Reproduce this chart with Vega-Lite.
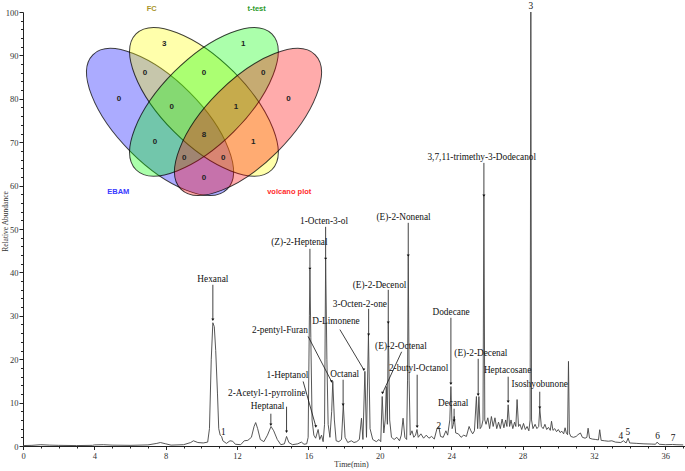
{
  "$schema": "https://vega.github.io/schema/vega-lite/v6.json",
  "width": 662,
  "height": 434,
  "autosize": "none",
  "padding": {"left": 23, "top": 12, "right": 0, "bottom": 25},
  "background": "white",
  "config": {"view": {"stroke": null}},
  "datasets": {
    "chrom": [
      {"t":0,"v":0.1},{"t":0.5,"v":0.15},{"t":1.0,"v":0.3},{"t":1.5,"v":0.2},{"t":2.0,"v":0.15},{"t":3.0,"v":0.1},{"t":3.9,"v":0.15},{"t":4.0,"v":0.25},{"t":4.5,"v":0.3},{"t":5.0,"v":0.2},{"t":6.0,"v":0.15},{"t":7.0,"v":0.25},{"t":7.5,"v":0.6},{"t":7.7,"v":0.8},{"t":8.0,"v":0.5},{"t":8.3,"v":0.2},{"t":9.0,"v":0.3},{"t":9.4,"v":0.8},{"t":9.55,"v":1.2},{"t":9.8,"v":0.8},{"t":10.1,"v":0.7},{"t":10.35,"v":0.9},{"t":10.45,"v":4},{"t":10.55,"v":20},{"t":10.64,"v":28.4},{"t":10.72,"v":27.5},{"t":10.8,"v":22},{"t":10.9,"v":12},{"t":10.97,"v":4},{"t":11.05,"v":2.5},{"t":11.13,"v":2.2},{"t":11.2,"v":1.2},{"t":11.4,"v":0.6},{"t":11.6,"v":1.2},{"t":11.75,"v":1.1},{"t":11.9,"v":0.4},{"t":12.2,"v":0.3},{"t":12.4,"v":1.2},{"t":12.6,"v":1.3},{"t":12.8,"v":2},{"t":12.95,"v":4.5},{"t":13.04,"v":5.4},{"t":13.15,"v":4},{"t":13.3,"v":1.5},{"t":13.5,"v":1.0},{"t":13.7,"v":2.5},{"t":13.9,"v":4.5},{"t":14.05,"v":3.5},{"t":14.25,"v":1.5},{"t":14.45,"v":0.3},{"t":14.65,"v":0.5},{"t":14.77,"v":2.2},{"t":14.9,"v":0.8},{"t":15.1,"v":0.3},{"t":15.4,"v":0.5},{"t":15.6,"v":0.9},{"t":15.75,"v":0.4},{"t":15.9,"v":0.5},{"t":15.98,"v":2},{"t":16.05,"v":30},{"t":16.08,"v":40.6},{"t":16.13,"v":25},{"t":16.2,"v":6},{"t":16.3,"v":2.5},{"t":16.4,"v":1.8},{"t":16.54,"v":3.8},{"t":16.63,"v":1.5},{"t":16.73,"v":2.5},{"t":16.82,"v":1.0},{"t":16.9,"v":5},{"t":16.96,"v":42.9},{"t":17.03,"v":20},{"t":17.1,"v":5},{"t":17.2,"v":2},{"t":17.3,"v":8},{"t":17.36,"v":14.9},{"t":17.45,"v":6},{"t":17.55,"v":1.2},{"t":17.7,"v":1.0},{"t":17.85,"v":1.5},{"t":17.95,"v":9.5},{"t":18.05,"v":2},{"t":18.2,"v":0.8},{"t":18.4,"v":1.2},{"t":18.55,"v":0.8},{"t":18.7,"v":1.0},{"t":18.85,"v":1.5},{"t":18.97,"v":6.4},{"t":19.05,"v":1.5},{"t":19.16,"v":17.2},{"t":19.25,"v":2},{"t":19.36,"v":25.6},{"t":19.45,"v":4},{"t":19.6,"v":1.5},{"t":19.8,"v":1},{"t":19.95,"v":1.5},{"t":20.05,"v":1},{"t":20.13,"v":11.4},{"t":20.22,"v":3},{"t":20.3,"v":6},{"t":20.36,"v":13.7},{"t":20.42,"v":5},{"t":20.47,"v":28.3},{"t":20.55,"v":6},{"t":20.65,"v":2},{"t":20.8,"v":1.5},{"t":20.95,"v":2},{"t":21.1,"v":1.2},{"t":21.2,"v":2.5},{"t":21.3,"v":6.4},{"t":21.4,"v":2},{"t":21.5,"v":1.5},{"t":21.55,"v":15},{"t":21.59,"v":43.7},{"t":21.64,"v":15},{"t":21.7,"v":2.5},{"t":21.8,"v":3.5},{"t":21.9,"v":2},{"t":22.0,"v":2.5},{"t":22.08,"v":3.8},{"t":22.15,"v":2},{"t":22.3,"v":2.8},{"t":22.45,"v":1.8},{"t":22.6,"v":2.5},{"t":22.75,"v":1.8},{"t":22.9,"v":2.2},{"t":23.05,"v":1.6},{"t":23.2,"v":4.0},{"t":23.3,"v":4.5},{"t":23.4,"v":2.2},{"t":23.55,"v":2.0},{"t":23.7,"v":3.5},{"t":23.8,"v":2.5},{"t":23.92,"v":6},{"t":23.98,"v":13.7},{"t":24.05,"v":4},{"t":24.12,"v":5},{"t":24.17,"v":6.8},{"t":24.25,"v":3},{"t":24.4,"v":2.8},{"t":24.55,"v":2.0},{"t":24.7,"v":2.5},{"t":24.85,"v":2.2},{"t":25.0,"v":4.5},{"t":25.1,"v":3.5},{"t":25.2,"v":2.8},{"t":25.3,"v":3.5},{"t":25.41,"v":11.4},{"t":25.48,"v":4},{"t":25.55,"v":11.4},{"t":25.62,"v":4},{"t":25.7,"v":4.5},{"t":25.78,"v":6},{"t":25.83,"v":57.5},{"t":25.88,"v":6},{"t":25.95,"v":5},{"t":26.05,"v":6.5},{"t":26.15,"v":4},{"t":26.25,"v":6.8},{"t":26.35,"v":4.5},{"t":26.45,"v":6.5},{"t":26.55,"v":4},{"t":26.65,"v":5.5},{"t":26.75,"v":4},{"t":26.85,"v":6.2},{"t":26.95,"v":4.2},{"t":27.05,"v":6},{"t":27.12,"v":4.5},{"t":27.19,"v":9.5},{"t":27.27,"v":4.5},{"t":27.35,"v":6},{"t":27.45,"v":4},{"t":27.55,"v":5.5},{"t":27.62,"v":4.5},{"t":27.69,"v":10.7},{"t":27.77,"v":4.5},{"t":27.85,"v":5},{"t":27.95,"v":3.8},{"t":28.05,"v":5.2},{"t":28.15,"v":3.8},{"t":28.25,"v":4.5},{"t":28.35,"v":3.5},{"t":28.42,"v":6},{"t":28.46,"v":100},{"t":28.5,"v":6},{"t":28.58,"v":4},{"t":28.7,"v":5},{"t":28.8,"v":4},{"t":28.9,"v":4.5},{"t":28.96,"v":8.7},{"t":29.05,"v":4.5},{"t":29.15,"v":4},{"t":29.25,"v":5},{"t":29.35,"v":3.8},{"t":29.45,"v":4.3},{"t":29.55,"v":3.6},{"t":29.62,"v":5.7},{"t":29.7,"v":3.6},{"t":29.8,"v":4},{"t":29.9,"v":3.3},{"t":30.0,"v":3.8},{"t":30.1,"v":3.1},{"t":30.2,"v":3.4},{"t":30.3,"v":2.8},{"t":30.38,"v":4.2},{"t":30.45,"v":3},{"t":30.52,"v":2.6},{"t":30.57,"v":19.5},{"t":30.62,"v":3},{"t":30.7,"v":2.2},{"t":30.85,"v":2.0},{"t":31.0,"v":2.2},{"t":31.1,"v":2.6},{"t":31.24,"v":3.0},{"t":31.35,"v":2.0},{"t":31.5,"v":1.8},{"t":31.6,"v":2.0},{"t":31.67,"v":4.1},{"t":31.75,"v":1.8},{"t":31.9,"v":1.6},{"t":32.1,"v":1.5},{"t":32.25,"v":1.4},{"t":32.32,"v":3.75},{"t":32.4,"v":1.3},{"t":32.6,"v":1.2},{"t":32.8,"v":1.1},{"t":33.0,"v":1.2},{"t":33.2,"v":0.9},{"t":33.5,"v":0.8},{"t":33.65,"v":1.2},{"t":33.8,"v":0.7},{"t":33.91,"v":1.8},{"t":34.0,"v":0.7},{"t":34.4,"v":0.6},{"t":34.8,"v":0.5},{"t":35.2,"v":0.45},{"t":35.45,"v":0.4},{"t":35.54,"v":0.9},{"t":35.65,"v":0.4},{"t":36.0,"v":0.3},{"t":36.4,"v":0.35},{"t":36.6,"v":0.3},{"t":37.0,"v":0.25}
    ],
    "labels": [
      {"label":"Hexanal","t":10.64,"v":38.45},
      {"label":"2-Acetyl-1-pyrroline","t":13.66,"v":12.2},
      {"label":"Heptanal","t":13.71,"v":9.12},
      {"label":"1-Heptanol","t":14.82,"v":16.26},
      {"label":"2-pentyl-Furan","t":14.4,"v":26.78},
      {"label":"(Z)-2-Heptenal","t":15.49,"v":47.11},
      {"label":"1-Octen-3-ol","t":16.87,"v":51.95},
      {"label":"Octanal","t":18.03,"v":16.65},
      {"label":"D-Limonene","t":17.54,"v":28.69},
      {"label":"3-Octen-2-one","t":18.88,"v":32.77},
      {"label":"(E)-2-Decenol","t":19.98,"v":37.14},
      {"label":"(E)-2-Nonenal","t":21.33,"v":52.87},
      {"label":"(E)-2-Octenal","t":21.18,"v":22.93},
      {"label":"2-butyl-Octanol","t":22.17,"v":17.96},
      {"label":"Dodecane","t":23.99,"v":30.99},
      {"label":"Decanal","t":24.11,"v":9.9},
      {"label":"(E)-2-Decenal","t":25.66,"v":21.41},
      {"label":"3,7,11-trimethy-3-Dodecanol","t":25.71,"v":66.68},
      {"label":"Heptacosane","t":27.16,"v":17.57},
      {"label":"Isoshyobunone","t":28.96,"v":14.34},
      {"label":"1","t":11.22,"v":3.22},
      {"label":"2","t":23.31,"v":4.51},
      {"label":"3","t":28.46,"v":101.38},
      {"label":"4","t":33.5,"v":2.21},
      {"label":"5","t":33.89,"v":3.22},
      {"label":"6","t":35.56,"v":2.37},
      {"label":"7","t":36.43,"v":1.75}
    ],
    "arrows": [
      {"name":"Hexanal","t":10.64,"v":29.08,"t2":10.64,"v2":37.14},
      {"name":"2-Acetyl-1-pyrroline","t":14.77,"v":3.3,"t2":14.77,"v2":9.05},
      {"name":"Heptanal","t":13.89,"v":4.9,"t2":13.89,"v2":7.44},
      {"name":"1-Heptanol","t":16.41,"v":4.51,"t2":15.7,"v2":14.87},
      {"name":"2-pentyl-Furan","t":17.29,"v":14.87,"t2":15.98,"v2":25.24},
      {"name":"(Z)-2-Heptenal","t":16.08,"v":40.8,"t2":16.08,"v2":45.43},
      {"name":"1-Octen-3-ol","t":16.96,"v":43.1,"t2":16.96,"v2":50.5},
      {"name":"Octanal","t":17.94,"v":9.51,"t2":17.94,"v2":15.27},
      {"name":"D-Limonene","t":19.1,"v":17.57,"t2":17.76,"v2":26.82},
      {"name":"3-Octen-2-one","t":19.37,"v":25.63,"t2":19.37,"v2":31.61},
      {"name":"(E)-2-Decenol","t":20.47,"v":28.39,"t2":20.47,"v2":35.99},
      {"name":"(E)-2-Nonenal","t":21.59,"v":43.82,"t2":21.59,"v2":51.42},
      {"name":"(E)-2-Octenal","t":20.15,"v":12.2,"t2":21.22,"v2":21.71},
      {"name":"2-butyl-Octanol","t":22.09,"v":4.44,"t2":22.09,"v2":16.42},
      {"name":"Dodecane","t":23.98,"v":14.35,"t2":23.98,"v2":29.54},
      {"name":"Decanal","t":24.16,"v":5.83,"t2":24.16,"v2":8.59},
      {"name":"(E)-2-Decenal","t":25.51,"v":11.81,"t2":25.51,"v2":20.1},
      {"name":"3,7,11-trimethy-3-Dodecanol","t":25.83,"v":57.63,"t2":25.83,"v2":65.23},
      {"name":"Heptacosane","t":27.19,"v":10.2,"t2":27.19,"v2":15.96},
      {"name":"Isoshyobunone","t":28.96,"v":8.8,"t2":28.96,"v2":12.5}
    ],
    "venn": [
      {"set":"EBAM","t":7.68,"v":74.66},
      {"set":"FC","t":10.14,"v":79.3},
      {"set":"t-test","t":10.14,"v":79.3},
      {"set":"volcano plot","t":12.61,"v":74.66}
    ],
    "vennSetLabels": [
      {"label":"FC","t":7.21,"v":100.6},
      {"label":"t-test","t":13.09,"v":100.6},
      {"label":"EBAM","t":5.34,"v":58.62},
      {"label":"volcano plot","t":14.92,"v":58.62}
    ],
    "vennCounts": [
      {"n":"3","t":7.92,"v":92.56},
      {"n":"1","t":12.34,"v":92.56},
      {"n":"0","t":6.83,"v":86.02},
      {"n":"0","t":10.14,"v":86.02},
      {"n":"0","t":13.46,"v":86.02},
      {"n":"0","t":5.38,"v":79.9},
      {"n":"0","t":8.33,"v":78.2},
      {"n":"1","t":11.93,"v":78.2},
      {"n":"0","t":14.88,"v":79.9},
      {"n":"0","t":7.39,"v":70.14},
      {"n":"8","t":10.14,"v":71.68},
      {"n":"1","t":12.9,"v":70.14},
      {"n":"0","t":9.04,"v":66.31},
      {"n":"0","t":11.22,"v":66.31},
      {"n":"0","t":10.14,"v":61.85}
    ]
  },
  "encoding": {
    "x": {
      "field": "t", "type": "quantitative",
      "scale": {"domain": [0, 37.1], "nice": false, "zero": false},
      "axis": {
        "values": [0,0.5,1,1.5,2,2.5,3,3.5,4,4.5,5,5.5,6,6.5,7,7.5,8,8.5,9,9.5,10,10.5,11,11.5,12,12.5,13,13.5,14,14.5,15,15.5,16,16.5,17,17.5,18,18.5,19,19.5,20,20.5,21,21.5,22,22.5,23,23.5,24,24.5,25,25.5,26,26.5,27,27.5,28,28.5,29,29.5,30,30.5,31,31.5,32,32.5,33,33.5,34,34.5,35,35.5,36,36.5,37],
        "format": "d",
        "labelExpr": "datum.value % 4 === 0 ? datum.label : ''",
        "tickSize": {"condition": {"test": "datum.value % 4 === 0", "value": 3.5}, "value": 2},
        "grid": false,
        "domainColor": "#222", "tickColor": "#222",
        "labelFont": "Liberation Serif", "labelFontSize": 8.5, "labelColor": "#333",
        "labelPadding": 2, "labelOverlap": false, "labelFlush": false,
        "title": "Time(min)", "titleFont": "Liberation Serif", "titleFontWeight": "normal",
        "titleFontSize": 8, "titleColor": "#333", "titleX": 328, "titleY": 18,
        "titleAlign": "center", "titleBaseline": "middle"
      }
    },
    "y": {
      "field": "v", "type": "quantitative",
      "scale": {"domain": [0, 100], "nice": false},
      "axis": {
        "values": [0,2,4,6,8,10,12,14,16,18,20,22,24,26,28,30,32,34,36,38,40,42,44,46,48,50,52,54,56,58,60,62,64,66,68,70,72,74,76,78,80,82,84,86,88,90,92,94,96,98,100],
        "format": "d",
        "labelExpr": "datum.value % 10 === 0 ? datum.label : ''",
        "tickSize": {"condition": {"test": "datum.value % 10 === 0", "value": 4}, "value": 2.5},
        "grid": false,
        "domainColor": "#222", "tickColor": "#222",
        "labelFont": "Liberation Serif", "labelFontSize": 8.5, "labelColor": "#333",
        "labelPadding": 1, "labelOverlap": false, "labelFlush": false,
        "title": "Relative Abundance", "titleFont": "Liberation Serif", "titleFontWeight": "normal",
        "titleFontSize": 7.5, "titleColor": "#333", "titleX": -18, "titleY": 209,
        "titleAngle": 270, "titleAlign": "center", "titleBaseline": "middle"
      }
    }
  },
  "layer": [
    {
      "data": {"name": "venn"},
      "transform": [{"filter": "datum.set === 'EBAM'"}],
      "mark": {"type": "point", "shape": "M -1 0 C -1 -0.243 -0.552 -0.44 0 -0.44 C 0.552 -0.44 1 -0.243 1 0 C 1 0.243 0.552 0.44 0 0.44 C -0.552 0.44 -1 0.243 -1 0 Z", "size": 36100, "angle": 45, "filled": true, "fill": "#0000ff", "fillOpacity": 0.33, "stroke": "#000", "strokeOpacity": 0.75, "strokeWidth": 1}
    },
    {
      "data": {"name": "venn"},
      "transform": [{"filter": "datum.set === 'FC'"}],
      "mark": {"type": "point", "shape": "M -1 0 C -1 -0.243 -0.552 -0.44 0 -0.44 C 0.552 -0.44 1 -0.243 1 0 C 1 0.243 0.552 0.44 0 0.44 C -0.552 0.44 -1 0.243 -1 0 Z", "size": 36900, "angle": 45, "filled": true, "fill": "#ffff00", "fillOpacity": 0.33, "stroke": "#000", "strokeOpacity": 0.75, "strokeWidth": 1}
    },
    {
      "data": {"name": "venn"},
      "transform": [{"filter": "datum.set === 't-test'"}],
      "mark": {"type": "point", "shape": "M -1 0 C -1 -0.243 -0.552 -0.44 0 -0.44 C 0.552 -0.44 1 -0.243 1 0 C 1 0.243 0.552 0.44 0 0.44 C -0.552 0.44 -1 0.243 -1 0 Z", "size": 36900, "angle": -45, "filled": true, "fill": "#00ff00", "fillOpacity": 0.33, "stroke": "#000", "strokeOpacity": 0.75, "strokeWidth": 1}
    },
    {
      "data": {"name": "venn"},
      "transform": [{"filter": "datum.set === 'volcano plot'"}],
      "mark": {"type": "point", "shape": "M -1 0 C -1 -0.243 -0.552 -0.44 0 -0.44 C 0.552 -0.44 1 -0.243 1 0 C 1 0.243 0.552 0.44 0 0.44 C -0.552 0.44 -1 0.243 -1 0 Z", "size": 36100, "angle": -45, "filled": true, "fill": "#ff0000", "fillOpacity": 0.33, "stroke": "#000", "strokeOpacity": 0.75, "strokeWidth": 1}
    },
    {
      "data": {"name": "vennCounts"},
      "mark": {"type": "text", "font": "Liberation Sans", "fontWeight": "bold", "fontSize": 8, "color": "#222", "baseline": "middle", "align": "center"},
      "encoding": {"text": {"field": "n"}}
    },
    {
      "data": {"name": "vennSetLabels"},
      "mark": {"type": "text", "font": "Liberation Sans", "fontWeight": "bold", "fontSize": 7.5, "baseline": "middle", "align": "center"},
      "encoding": {
        "text": {"field": "label"},
        "color": {"field": "label", "type": "nominal", "legend": null,
          "scale": {"domain": ["FC", "t-test", "EBAM", "volcano plot"], "range": ["#a8942a", "#2a9a2a", "#3a3aff", "#ff2a2a"]}}
      }
    },
    {
      "data": {"name": "chrom"},
      "mark": {"type": "line", "color": "#444", "strokeWidth": 0.9, "interpolate": "linear"}
    },
    {
      "data": {"name": "arrows"},
      "mark": {"type": "rule", "color": "#111", "strokeWidth": 0.8},
      "encoding": {"x2": {"field": "t2"}, "y2": {"field": "v2"}}
    },
    {
      "data": {"name": "arrows"},
      "mark": {"type": "point", "shape": "triangle-down", "size": 9, "filled": true, "color": "#111", "opacity": 1}
    },
    {
      "data": {"name": "labels"},
      "mark": {"type": "text", "font": "Liberation Serif", "fontSize": 9.3, "color": "#111", "baseline": "middle", "align": "center"},
      "encoding": {"text": {"field": "label"}}
    }
  ]
}
